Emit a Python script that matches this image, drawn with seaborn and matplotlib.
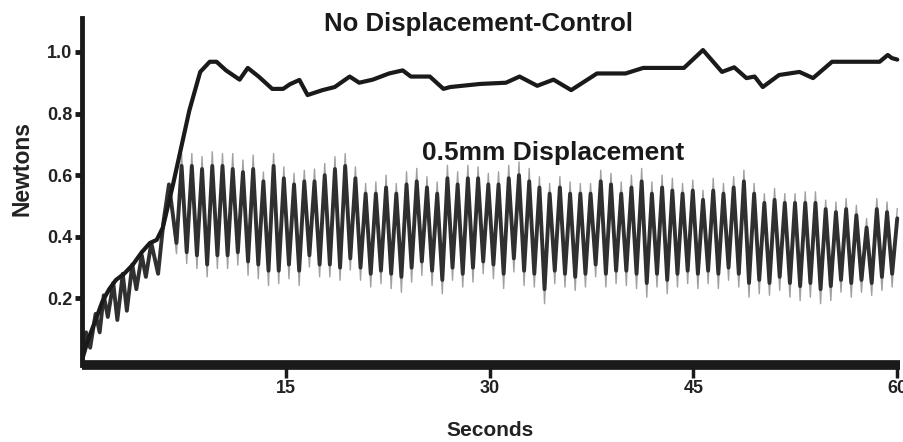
import numpy as np
import pandas as pd
import matplotlib
matplotlib.use("Agg")
import matplotlib.pyplot as plt
import seaborn as sns

# ---------------- data ----------------
# No Displacement-Control trace
ctrl_t = [0, 0.4, 1.0, 1.5, 2.0, 2.5, 3.1, 3.75, 4.4, 4.8, 5.0, 5.5, 5.95, 6.7, 7.4, 7.9,
          8.7, 9.4, 9.9, 10.6, 11.6, 12.2, 13.0, 14.0, 14.8, 15.3, 16.0, 16.6, 17.7, 18.6,
          19.7, 20.4, 21.4, 22.6, 23.6, 24.2, 25.6, 26.6, 27.1, 29.3, 31.2, 32.2, 33.5,
          34.7, 36.0, 37.9, 38.8, 40.0, 41.3, 44.3, 45.7, 47.1, 48.0, 48.9, 49.5, 50.1,
          51.3, 52.8, 53.8, 55.2, 58.7, 59.3, 59.6, 60.0]
ctrl_v = [0.0, 0.06, 0.13, 0.19, 0.23, 0.26, 0.28, 0.31, 0.35, 0.37, 0.38, 0.39, 0.43, 0.57,
          0.71, 0.81, 0.935, 0.968, 0.968, 0.94, 0.91, 0.948, 0.92, 0.88, 0.88, 0.895, 0.909,
          0.86, 0.876, 0.886, 0.92, 0.90, 0.91, 0.93, 0.94, 0.92, 0.92, 0.88, 0.886, 0.896,
          0.90, 0.92, 0.89, 0.91, 0.876, 0.93, 0.93, 0.93, 0.948, 0.948, 1.006, 0.935, 0.95,
          0.915, 0.92, 0.886, 0.925, 0.935, 0.915, 0.968, 0.968, 0.99, 0.98, 0.975]

# 0.5mm Displacement: initial ramp before the steady oscillation
ramp_t = [0.0, 0.3, 0.6, 1.0, 1.3, 1.6, 1.9, 2.3, 2.6, 3.0, 3.3, 3.7, 4.0, 4.4, 4.7, 5.1,
          5.6, 6.0, 6.4]
ramp_v = [0.00, 0.09, 0.04, 0.15, 0.09, 0.21, 0.14, 0.25, 0.13, 0.28, 0.16, 0.31, 0.23,
          0.34, 0.27, 0.38, 0.28, 0.45, 0.57]

# oscillation: first peak time and cycle period (s)
first_peak = 7.33
period = 0.7524

# outer (thin grey) extremes of each cycle
peak_tip = [0.67,
            0.67, 0.66, 0.676, 0.67, 0.67, 0.649, 0.665, 0.61, 0.67, 0.627, 0.606, 0.616, 0.62, 0.638, 0.66, 0.67, 0.627,
            0.573, 0.578, 0.6, 0.573, 0.611, 0.622, 0.595, 0.578, 0.632, 0.611, 0.632, 0.627, 0.606, 0.611, 0.632, 0.643, 0.622, 0.595,
            0.573, 0.595, 0.578, 0.573, 0.573, 0.616, 0.606, 0.578, 0.6, 0.622, 0.578, 0.6, 0.59, 0.573, 0.584, 0.551, 0.59, 0.573,
            0.595, 0.616, 0.573, 0.54, 0.557, 0.54, 0.54, 0.546, 0.546, 0.519, 0.513, 0.524, 0.502, 0.459, 0.524, 0.513, 0.492]
trough_tip = [0.345,
              0.313, 0.297, 0.27, 0.297, 0.297, 0.308, 0.275, 0.264, 0.242, 0.248, 0.264, 0.242, 0.302, 0.27, 0.27, 0.259, 0.292,
              0.259, 0.237, 0.248, 0.232, 0.22, 0.253, 0.275, 0.242, 0.215, 0.259, 0.237, 0.253, 0.28, 0.264, 0.232, 0.286, 0.242, 0.237,
              0.183, 0.248, 0.237, 0.226, 0.237, 0.27, 0.237, 0.248, 0.242, 0.232, 0.204, 0.237, 0.215, 0.237, 0.248, 0.232, 0.248, 0.232,
              0.259, 0.237, 0.204, 0.215, 0.21, 0.226, 0.204, 0.193, 0.204, 0.183, 0.193, 0.22, 0.204, 0.22, 0.21, 0.226, 0.237]
# inner (dark, thick) extremes of each cycle
peak_body = [0.63,
             0.63, 0.62, 0.63, 0.63, 0.62, 0.61, 0.62, 0.58, 0.63, 0.59, 0.57, 0.58, 0.58, 0.60, 0.62, 0.63, 0.59,
             0.54, 0.54, 0.56, 0.54, 0.57, 0.58, 0.56, 0.54, 0.59, 0.57, 0.59, 0.59, 0.57, 0.57, 0.59, 0.60, 0.58, 0.56,
             0.54, 0.56, 0.54, 0.54, 0.54, 0.58, 0.57, 0.54, 0.56, 0.58, 0.54, 0.56, 0.55, 0.54, 0.55, 0.52, 0.55, 0.54,
             0.56, 0.58, 0.54, 0.51, 0.52, 0.51, 0.51, 0.51, 0.51, 0.49, 0.48, 0.49, 0.47, 0.43, 0.49, 0.48, 0.46]
trough_body = [0.38,
               0.35, 0.34, 0.31, 0.34, 0.34, 0.35, 0.32, 0.31, 0.29, 0.29, 0.31, 0.29, 0.34, 0.31, 0.31, 0.30, 0.33,
               0.30, 0.28, 0.29, 0.28, 0.27, 0.30, 0.32, 0.29, 0.26, 0.30, 0.28, 0.30, 0.32, 0.31, 0.28, 0.33, 0.29, 0.28,
               0.23, 0.29, 0.28, 0.27, 0.28, 0.31, 0.28, 0.29, 0.29, 0.28, 0.25, 0.28, 0.26, 0.28, 0.29, 0.28, 0.29, 0.28,
               0.30, 0.28, 0.25, 0.26, 0.25, 0.27, 0.25, 0.24, 0.25, 0.23, 0.24, 0.26, 0.25, 0.26, 0.25, 0.27, 0.28]

x_ticks = [15, 30, 45, 60]
y_ticks = [0.2, 0.4, 0.6, 0.8, 1.0]
y_ticklabels = ["0.2", "0.4", "0.6", "0.8", "1.0"]

# ---------------- build series ----------------
n = len(peak_tip)
peak_times = first_peak + period * np.arange(n)
trough_times = peak_times - period / 2
osc_t = np.empty(2 * n)
osc_t[0::2] = trough_times
osc_t[1::2] = peak_times
tip_v = np.empty(2 * n)
tip_v[0::2] = trough_tip
tip_v[1::2] = peak_tip
body_v = np.empty(2 * n)
body_v[0::2] = trough_body
body_v[1::2] = peak_body

disp_t = np.concatenate([ramp_t, osc_t])
disp_tip = np.concatenate([ramp_v, tip_v])
disp_body = np.concatenate([ramp_v, body_v])

# ---------------- plot ----------------
sns.set_theme(style="white")
plt.rcParams["font.family"] = ["Liberation Sans", "DejaVu Sans"]

fig = plt.figure(figsize=(9.04, 4.42), dpi=100)
ax = fig.add_axes([82 / 904, (442 - 365) / 442, (900 - 82) / 904, (365 - 18) / 442])

sns.lineplot(x=disp_t, y=disp_tip, sort=False, estimator=None, ax=ax,
             color="#a0a0a0", lw=1.0)
sns.lineplot(x=disp_t, y=disp_body, sort=False, estimator=None, ax=ax,
             color="#303030", lw=2.8)
sns.lineplot(x=ctrl_t, y=ctrl_v, sort=False, estimator=None, ax=ax,
             color="#1a1a1a", lw=3.0)

ax.set_xlim(0, 60.2)
ax.set_ylim(-0.016, 1.11)

ax.set_xticks(x_ticks)
ax.set_xticklabels([str(v) for v in x_ticks])
ax.set_yticks(y_ticks)
ax.set_yticklabels(y_ticklabels)

for s in ["top", "right"]:
    ax.spines[s].set_visible(False)
ax.spines["left"].set_linewidth(3.5)
ax.spines["left"].set_color("#1a1a1a")
ax.spines["bottom"].set_linewidth(7)
ax.spines["bottom"].set_color("#1a1a1a")
ax.spines["bottom"].set_capstyle("butt")

ax.tick_params(axis="y", which="major", left=True, length=5, width=3.5,
               color="#1a1a1a", pad=2, labelsize=13, labelcolor="#222222")
ax.tick_params(axis="x", which="major", bottom=True, length=9, width=2.5,
               color="#1a1a1a", pad=2, labelsize=13, labelcolor="#222222")
for lab in ax.get_xticklabels() + ax.get_yticklabels():
    lab.set_fontweight("bold")

ax.set_xlabel("")
ax.set_ylabel("")
fig.text(490 / 904, 1 - 430 / 442, "Seconds", ha="center", va="center",
         fontsize=15, fontweight="bold", color="#222222")
fig.text(22 / 904, 1 - 168 / 442, "Newtons", ha="center", va="center",
         rotation=90, fontsize=16.5, fontweight="bold", color="#222222")

ax.text(29.2, 1.09, "No Displacement-Control", ha="center", va="center",
        fontsize=18.5, fontweight="bold", color="#1a1a1a")
ax.text(34.7, 0.672, "0.5mm Displacement", ha="center", va="center",
        fontsize=19, fontweight="bold", color="#1a1a1a")

fig.savefig("out.png", dpi=100)
